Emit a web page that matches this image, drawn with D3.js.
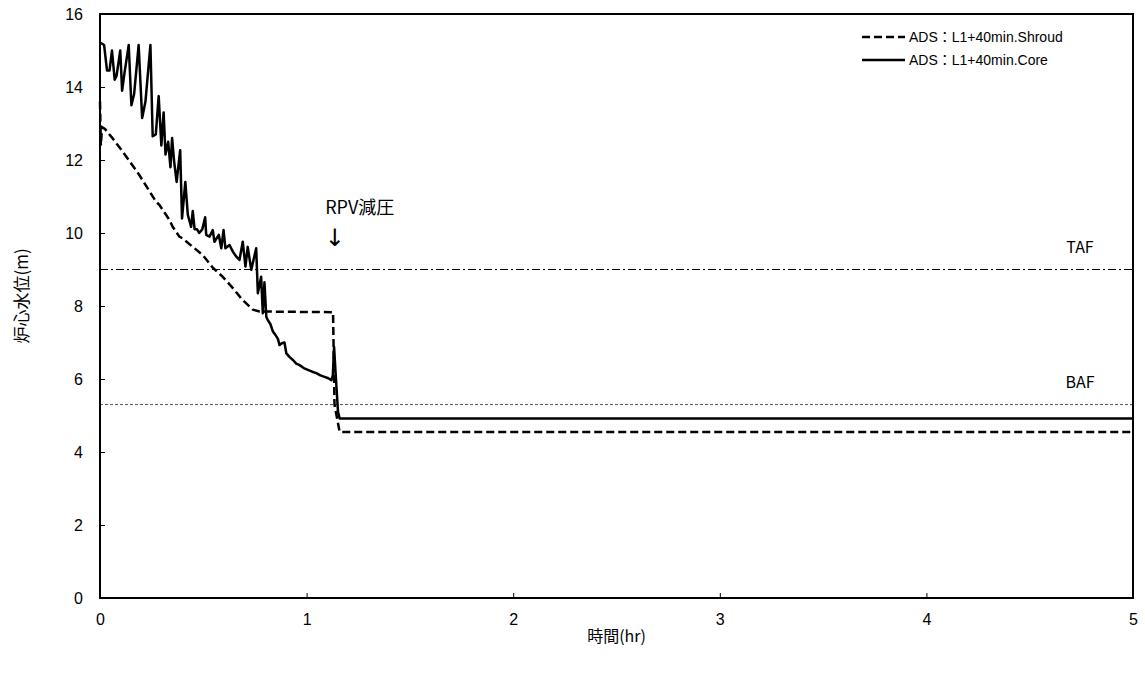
<!DOCTYPE html>
<html>
<head>
<meta charset="utf-8">
<script src="https://cdn.jsdelivr.net/npm/d3@7"></script>
<style>
  body { margin: 0; background: #fff; }
  text { font-family: "Liberation Sans", Arial, "Noto Sans CJK JP", sans-serif; }
  .jp { font-family: "Noto Sans CJK JP", sans-serif; }
  .arrow { font-family: "DejaVu Sans", sans-serif; }
</style>
</head>
<body>
<svg id="chart"></svg>
<script>
// ---- data (time in hr, level in m) ----
const xTicks = [0, 1, 2, 3, 4, 5];
const yTicks = [0, 2, 4, 6, 8, 10, 12, 14, 16];
const seriesNames = ["ADS：L1+40min.Shroud", "ADS：L1+40min.Core"];

const shroudT = [0, 0.004, 0.010, 0.024, 0.060, 0.110, 0.190, 0.271, 0.287, 0.336, 0.352, 0.384,
  0.400, 0.449, 0.497, 0.546, 0.594, 0.643, 0.691, 0.740, 0.772, 1.123, 1.128, 1.135, 1.160, 5];
const shroudV = [13.6, 12.4, 12.9, 12.85, 12.6, 12.23, 11.59, 10.86, 10.77, 10.36, 10.17, 9.9,
  9.85, 9.62, 9.4, 9.05, 8.8, 8.49, 8.16, 7.9, 7.85, 7.83, 7.83, 5.3, 4.55, 4.55];

const coreT = [0, 0.006, 0.020, 0.034, 0.046, 0.058, 0.071, 0.080, 0.098, 0.107, 0.119, 0.139,
  0.152, 0.165, 0.187, 0.204, 0.220, 0.244, 0.255, 0.270, 0.284, 0.297, 0.308, 0.317, 0.330,
  0.341, 0.349, 0.358, 0.371, 0.388, 0.397, 0.413, 0.425, 0.441, 0.449, 0.458, 0.470, 0.480,
  0.495, 0.509, 0.514, 0.530, 0.546, 0.554, 0.575, 0.587, 0.598, 0.607, 0.627, 0.643, 0.660,
  0.675, 0.691, 0.704, 0.715, 0.732, 0.756, 0.764, 0.780, 0.788, 0.796, 0.805, 0.812, 0.825,
  0.837, 0.850, 0.861, 0.869, 0.880, 0.893, 0.902, 0.918, 0.934, 0.950, 0.966, 0.986, 1.006,
  1.027, 1.047, 1.067, 1.087, 1.105, 1.120, 1.127, 1.133, 1.140, 1.152, 1.160, 5];
const coreV = [15.2, 15.2, 15.15, 14.45, 14.45, 15.0, 14.2, 14.3, 15.0, 13.9, 14.4, 15.15,
  13.5, 13.8, 15.15, 13.15, 13.6, 15.15, 12.65, 12.7, 13.75, 12.4, 13.3, 12.15, 12.5,
  11.8, 12.6, 12.0, 11.4, 12.27, 10.4, 11.4, 10.5, 10.17, 10.6, 10.1, 10.1, 10.0,
  10.1, 10.43, 9.95, 9.9, 10.08, 9.76, 9.95, 9.58, 10.08, 9.58, 9.67, 9.49, 9.35,
  9.26, 9.76, 9.08, 9.62, 8.99, 9.58, 8.35, 8.8, 7.8, 8.65, 7.7, 7.62, 7.5,
  7.3, 7.2, 7.1, 6.93, 6.98, 7.0, 6.7, 6.6, 6.52, 6.42, 6.38, 6.3, 6.25,
  6.2, 6.16, 6.1, 6.06, 6.02, 5.97, 6.1, 6.88, 6.2, 5.1, 4.92, 4.92];

const refLevels = [{name: "TAF", v: 9.0, dash: "8,3,2,3", color: "#000"},
                   {name: "BAF", v: 5.3, dash: "3,2", color: "#555"}];

// ---- layout ----
const W = 1145, H = 675;
const margin = {top: 14, right: 12, bottom: 77, left: 100};
const width = W - margin.left - margin.right,
      height = H - margin.top - margin.bottom;

const svgRoot = d3.select("#chart").attr("width", W).attr("height", H);
const svg = svgRoot.append("g")
    .attr("transform", "translate(" + margin.left + "," + margin.top + ")");

const x = d3.scaleLinear().domain([0, 5]).range([0, width]);
const y = d3.scaleLinear().domain([0, 16]).range([height, 0]);

// reference lines
refLevels.forEach(r => {
  svg.append("line")
      .attr("x1", 0).attr("x2", width)
      .attr("y1", y(r.v)).attr("y2", y(r.v))
      .attr("stroke", r.color)
      .attr("stroke-width", 1)
      .attr("stroke-dasharray", r.dash);
  svg.append("text")
      .attr("class", "jp")
      .attr("x", width - 53)
      .attr("y", y(r.v) - 17)
      .attr("text-anchor", "middle")
      .attr("font-size", 16)
      .text(r.name);
});

const line = d3.line()
    .x(d => x(d[0]))
    .y(d => y(d[1]));

const shroud = shroudT.map((t, i) => [t, shroudV[i]]);
const core = coreT.map((t, i) => [t, coreV[i]]);

svg.append("path")
    .datum(shroud)
    .attr("fill", "none")
    .attr("stroke", "#000")
    .attr("stroke-width", 2.5)
    .attr("stroke-dasharray", "8,4")
    .attr("d", line);

svg.append("path")
    .datum(core)
    .attr("fill", "none")
    .attr("stroke", "#000")
    .attr("stroke-width", 2.5)
    .attr("stroke-linejoin", "round")
    .attr("d", line);

// axes (ticks pointing inward)
const axisX = svg.append("g")
    .attr("transform", "translate(0," + height + ")")
    .call(d3.axisBottom(x).tickValues(xTicks).tickFormat(d3.format("d"))
      .tickSizeInner(-5).tickSizeOuter(0).tickPadding(16));
const axisY = svg.append("g")
    .call(d3.axisLeft(y).tickValues(yTicks).tickFormat(d3.format("d"))
      .tickSizeInner(-5).tickSizeOuter(0).tickPadding(17));
[axisX, axisY].forEach(a => {
  a.select(".domain").remove();
  a.selectAll("text").attr("font-size", 16).attr("fill", "#000")
      .style("font-family", "'Liberation Sans', Arial, sans-serif");
  a.selectAll(".tick line").attr("stroke", "#000");
});

// frame
svg.append("rect")
    .attr("width", width).attr("height", height)
    .attr("fill", "none")
    .attr("stroke", "#000")
    .attr("stroke-width", 2);

// axis titles
svgRoot.append("text")
    .attr("class", "jp")
    .attr("x", margin.left + x(2.5))
    .attr("y", 642)
    .attr("text-anchor", "middle")
    .attr("font-size", 16)
    .text("時間(hr)");
svgRoot.append("text")
    .attr("class", "jp")
    .attr("transform", "translate(28,296) rotate(-90)")
    .attr("text-anchor", "middle")
    .attr("font-size", 17)
    .text("炉心水位(m)");

// annotation
svg.append("text")
    .attr("class", "jp")
    .attr("x", x(1.09))
    .attr("y", 200)
    .attr("font-size", 18)
    .attr("fill", "#000")
    .text("RPV減圧");
svg.append("text")
    .attr("class", "arrow")
    .attr("x", x(1.137))
    .attr("y", 232)
    .attr("text-anchor", "middle")
    .attr("font-size", 24)
    .attr("fill", "#000")
    .text("\u2193\uFE0E");

// legend
const legend = svg.append("g")
    .attr("transform", "translate(" + (862 - margin.left) + "," + (37 - margin.top) + ")");
const legendItems = legend.selectAll("g")
    .data(seriesNames)
    .enter().append("g")
    .attr("transform", (d, i) => "translate(0," + i * 23 + ")");
legendItems.append("line")
    .attr("x1", 0).attr("x2", 43)
    .attr("stroke", "#000")
    .attr("stroke-width", 2.5)
    .attr("stroke-dasharray", (d, i) => i === 0 ? "8,4" : null);
legendItems.append("text")
    .attr("x", 47)
    .attr("dy", "0.35em")
    .attr("font-size", 14)
    .text(d => d);
</script>
</body>
</html>
